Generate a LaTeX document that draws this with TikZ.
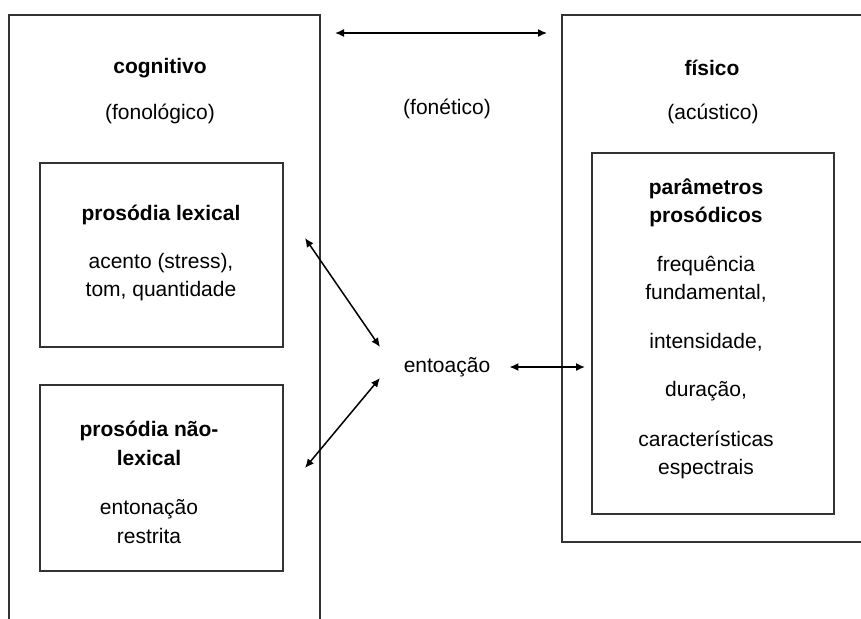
\documentclass[tikz,border=0pt]{standalone}
\usepackage{fontspec}
\setmainfont{Liberation Sans}
\usetikzlibrary{positioning, arrows.meta}

\begin{document}
\begin{tikzpicture}[
    x=1pt, y=-1pt,
    every node/.style={font=\fontsize{21}{28.5}\selectfont},
    % Styles
    frame/.style={draw=black!80, line width=1.1pt, inner sep=0pt, outer sep=0pt},
    title/.style={font=\fontsize{21}{28.5}\selectfont\bfseries, inner sep=0pt},
    label/.style={inner sep=0pt, align=center},
    dbl/.style={arrows={Latex[length=9pt, width=8pt]-Latex[length=9pt, width=8pt]}, line width=1.5pt},
]

\useasboundingbox (0,0) rectangle (861,618);
\clip (0,0) rectangle (861,618);

% Outer frames
\node[frame, minimum width=311, minimum height=645] (cogbox) at (164.5, 337.5) {};
\node[frame, minimum width=318, minimum height=527] (fisbox) at (721, 278.5) {};

% Inner frames
\node[frame, minimum width=243, minimum height=184] (lexbox) at (161.5, 255) {};
\node[frame, minimum width=243, minimum height=186] (naolexbox) at (161.5, 478) {};
\node[frame, minimum width=242, minimum height=361] (parambox) at (713, 333.5) {};

% Headings
\node[title] (cog) at (160, 68) {cognitivo};
\node[label] (fonol) at (160, 114) {(fonológico)};
\node[label] (fonet) at (447, 109) {(fonético)};
\node[title] (fis) at (712, 68) {físico};
\node[label] (acust) at (713, 114) {(acústico)};

% Box texts
\node[label] (lex) at (161, 253) {\textbf{prosódia lexical}\\[19pt] acento (stress),\\ tom, quantidade};
\node[label] (naolex) at (149, 482.5) {\textbf{prosódia não-}\\ \textbf{lexical}\\[21pt] entonação\\ restrita};
\node[label] (param) at (706, 329) {\textbf{parâmetros}\\ \textbf{prosódicos}\\[20pt] frequência\\ fundamental,\\[20pt] intensidade,\\[20pt] duração,\\[21pt] características\\ espectrais};

\node[label] (ento) at (447, 367) {entoação};

% Arrow ends
\coordinate (topL) at (335, 33);
\coordinate (topR) at (547, 33);
\coordinate (lexend) at (305, 238);
\coordinate (entoup) at (380, 347);
\coordinate (entodown) at (380, 378);
\coordinate (naolexend) at (305, 468);

% Arrows
\draw[dbl] (topL) -- (topR);
\draw[dbl] (lexend) -- (entoup);
\draw[dbl] (entodown) -- (naolexend);
\draw[dbl, shorten <=19pt, shorten >=7pt] (ento.east) -- (ento.east -| parambox.west);

\end{tikzpicture}
\end{document}
